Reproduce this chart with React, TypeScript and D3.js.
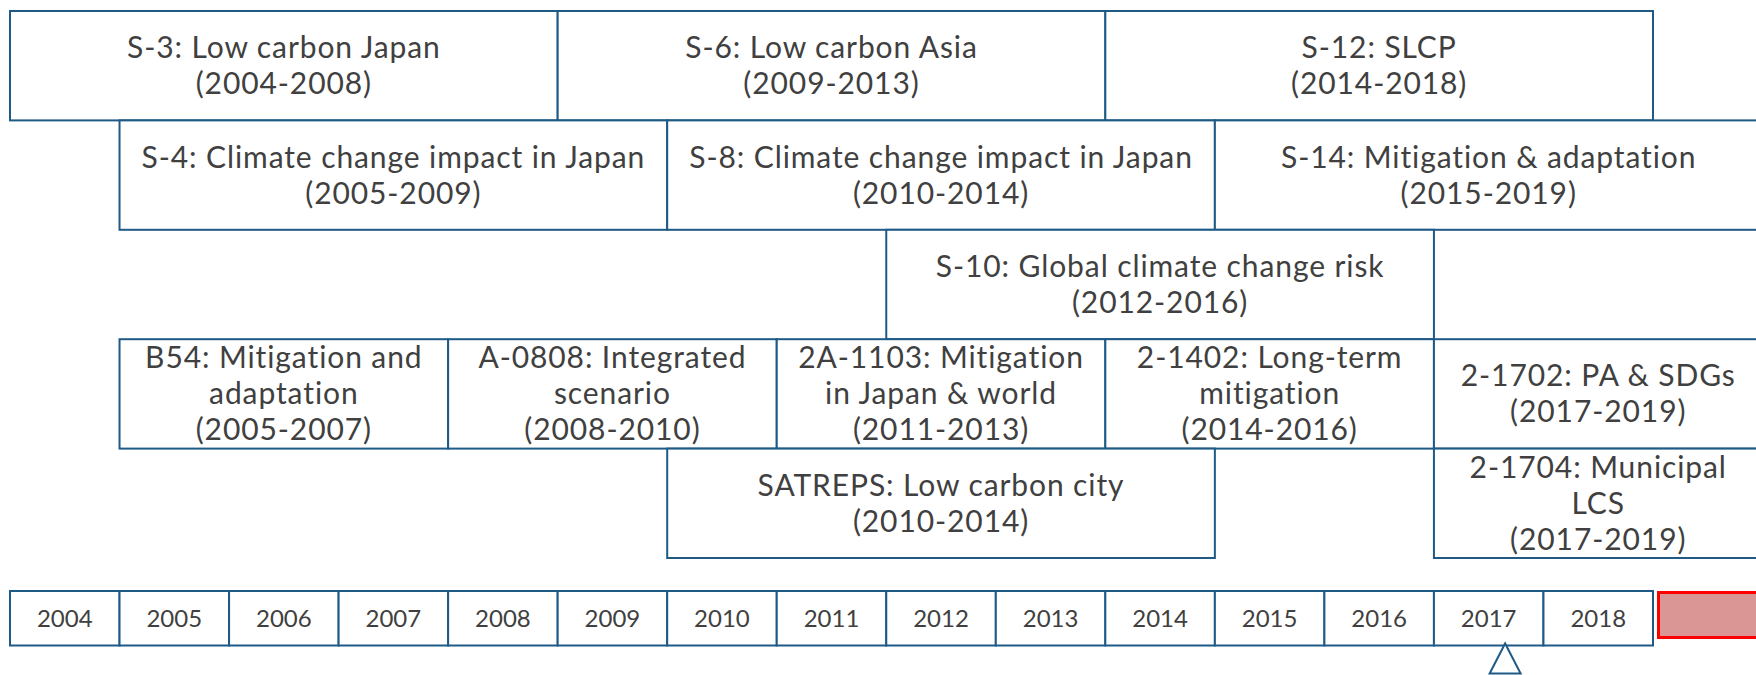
import React, { useEffect, useRef } from 'react';
import * as d3 from 'd3';

// project boxes, one array per row of the diagram
const row1 = [
  { lines: ['S-3: Low carbon Japan', '(2004-2008)'], start: 2004, end: 2008 },
  { lines: ['S-6: Low carbon Asia', '(2009-2013)'], start: 2009, end: 2013 },
  { lines: ['S-12: SLCP', '(2014-2018)'], start: 2014, end: 2018 },
];
const row2 = [
  { lines: ['S-4: Climate change impact in Japan', '(2005-2009)'], start: 2005, end: 2009 },
  { lines: ['S-8: Climate change impact in Japan', '(2010-2014)'], start: 2010, end: 2014 },
  { lines: ['S-14: Mitigation & adaptation', '(2015-2019)'], start: 2015, end: 2019 },
];
const row3 = [
  { lines: ['S-10: Global climate change risk', '(2012-2016)'], start: 2012, end: 2016 },
];
const row4 = [
  { lines: ['B54: Mitigation and', 'adaptation', '(2005-2007)'], start: 2005, end: 2007 },
  { lines: ['A-0808: Integrated', 'scenario', '(2008-2010)'], start: 2008, end: 2010 },
  { lines: ['2A-1103: Mitigation', 'in Japan & world', '(2011-2013)'], start: 2011, end: 2013 },
  { lines: ['2-1402: Long-term', 'mitigation', '(2014-2016)'], start: 2014, end: 2016 },
  { lines: ['2-1702: PA & SDGs', '(2017-2019)'], start: 2017, end: 2019 },
];
const row5 = [
  { lines: ['SATREPS: Low carbon city', '(2010-2014)'], start: 2010, end: 2014 },
  { lines: ['2-1704: Municipal', 'LCS', '(2017-2019)'], start: 2017, end: 2019 },
];
const rows = [row1, row2, row3, row4, row5];

const years = [2004, 2005, 2006, 2007, 2008, 2009, 2010, 2011, 2012, 2013, 2014, 2015, 2016, 2017, 2018];
const futureYear = 2019;
const currentTime = 2017.65;

const W = 1756;
const H = 675;
const BLUE = '#1f5a87';
const TEXT = '#404040';
const FONT = 'Lato, "Open Sans", sans-serif';

const App: React.FC = () => {
  const svgRef = useRef<SVGSVGElement>(null);

  useEffect(() => {
    if (!svgRef.current) return;
    document.body.style.margin = '0';

    const svg = d3.select(svgRef.current).html('');

    const x = d3.scaleLinear().domain([2004, 2019]).range([10, 1653]);
    const rowY = d3.scaleLinear().domain([0, 5]).range([11, 558]);
    const lineH = 36;

    rows.forEach((row, r) => {
      const g = svg.append('g');
      const y0 = rowY(r);
      const h = rowY(r + 1) - y0;
      const box = g.selectAll('g.box')
        .data(row)
        .enter()
        .append('g')
        .attr('class', 'box');

      box.append('rect')
        .attr('x', d => x(d.start))
        .attr('y', y0)
        .attr('width', d => x(d.end + 1) - x(d.start))
        .attr('height', h)
        .attr('fill', '#fff')
        .attr('stroke', BLUE)
        .attr('stroke-width', 2);

      box.each(function (d) {
        const cx = (x(d.start) + x(d.end + 1)) / 2;
        const cy = y0 + h / 2;
        const n = d.lines.length;
        d3.select(this).selectAll('text')
          .data(d.lines)
          .enter()
          .append('text')
          .attr('x', cx)
          .attr('y', (_, i) => cy + (i - (n - 1) / 2) * lineH + 10.5)
          .attr('text-anchor', 'middle')
          .attr('font-family', FONT)
          .attr('font-size', 30)
          .attr('letter-spacing', 0.9)
          .attr('fill', TEXT)
          .text(t => t);
      });
    });

    // year strip
    const yearTop = 591;
    const yearBottom = 645.5;
    const strip = svg.append('g');
    strip.selectAll('rect')
      .data(years)
      .enter()
      .append('rect')
      .attr('x', d => x(d))
      .attr('y', yearTop)
      .attr('width', d => x(d + 1) - x(d))
      .attr('height', yearBottom - yearTop)
      .attr('fill', '#fff')
      .attr('stroke', BLUE)
      .attr('stroke-width', 2);

    strip.selectAll('text')
      .data(years)
      .enter()
      .append('text')
      .attr('x', d => x(d + 0.5))
      .attr('y', (yearTop + yearBottom) / 2 + 9)
      .attr('text-anchor', 'middle')
      .attr('font-family', FONT)
      .attr('font-size', 24)
      .attr('fill', TEXT)
      .text(d => String(d));

    // future cell
    svg.append('rect')
      .attr('x', x(futureYear) + 5.5)
      .attr('y', yearTop + 1.5)
      .attr('width', x(futureYear + 1) - x(futureYear))
      .attr('height', 45)
      .attr('fill', '#d99694')
      .attr('stroke', '#ff0000')
      .attr('stroke-width', 3);

    // current time marker
    const tx = x(currentTime);
    svg.append('path')
      .attr('d', `M${tx},${yearBottom - 2} L${tx + 15.5},${H - 1.5} L${tx - 15.5},${H - 1.5} Z`)
      .attr('fill', '#fff')
      .attr('stroke', BLUE)
      .attr('stroke-width', 2);
  }, []);

  return (
    <svg
      ref={svgRef}
      width={W}
      height={H}
      style={{ position: 'absolute', left: 0, top: 0, display: 'block', background: '#fff' }}
    />
  );
};

export default App;
